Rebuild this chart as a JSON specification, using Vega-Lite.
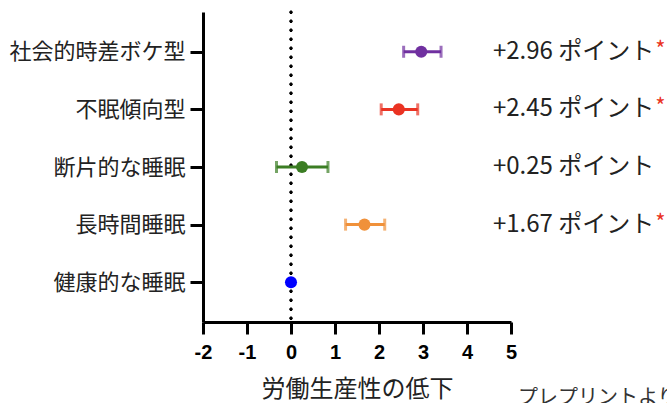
{
  "$schema": "https://vega.github.io/schema/vega-lite/v6.json",
  "autosize": {"type": "none"},
  "padding": {"left": 203, "top": 12, "right": 156, "bottom": 81},
  "width": 308,
  "height": 310,
  "background": "white",
  "config": {"view": {"stroke": null}, "font": "Noto Sans CJK JP"},
  "title": {"text": "プレプリントより", "orient": "bottom", "anchor": "start", "frame": "group", "dx": 315, "offset": -13, "fontSize": 20, "font": "Noto Sans CJK JP", "fontWeight": "normal", "color": "#333333"},
  "data": {"values": [
    {"name": "社会的時差ボケ型", "est": 2.96, "lo": 2.56, "hi": 3.41, "label": "+2.96 ポイント", "sig": true},
    {"name": "不眠傾向型", "est": 2.45, "lo": 2.05, "hi": 2.88, "label": "+2.45 ポイント", "sig": true},
    {"name": "断片的な睡眠", "est": 0.25, "lo": -0.33, "hi": 0.84, "label": "+0.25 ポイント", "sig": false},
    {"name": "長時間睡眠", "est": 1.67, "lo": 1.24, "hi": 2.13, "label": "+1.67 ポイント", "sig": true},
    {"name": "健康的な睡眠", "est": 0, "lo": null, "hi": null, "label": null, "sig": false}
  ]},
  "encoding": {
    "y": {"field": "name", "type": "nominal", "sort": null,
      "scale": {"type": "point", "padding": 0.69},
      "axis": {"title": null, "domainColor": "black", "domainWidth": 3, "tickColor": "black", "tickWidth": 3, "tickSize": 13, "labelPadding": 5, "labelFontSize": 22, "labelColor": "#222222", "labelFont": "Noto Sans CJK JP", "grid": false}}
  },
  "layer": [
    {"mark": {"type": "rule", "strokeDash": [0.5, 8.5], "strokeWidth": 2.6, "strokeCap": "round", "color": "black"},
     "encoding": {"x": {"datum": 0, "type": "quantitative",
       "scale": {"domain": [-2, 5], "nice": false, "zero": false},
       "axis": {"title": "労働生産性の低下", "values": [-2, -1, 0, 1, 2, 3, 4, 5], "labelExpr": "datum.value", "domainColor": "black", "domainWidth": 3, "tickColor": "black", "tickWidth": 3, "tickSize": 12, "labelPadding": 8, "labelFontSize": 20, "labelFontWeight": "bold", "labelFont": "Liberation Sans", "labelColor": "black", "labelFlush": false, "grid": false, "titleFontSize": 24, "titleFontWeight": "normal", "titleFont": "Noto Sans CJK JP", "titleColor": "#222222", "titlePadding": 15}},
       "y": null}},
    {"mark": {"type": "rule", "strokeWidth": 3},
     "encoding": {"x": {"field": "lo", "type": "quantitative"}, "x2": {"field": "hi"},
       "color": {"field": "name", "type": "nominal", "legend": null, "scale": {"domain": ["社会的時差ボケ型", "不眠傾向型", "断片的な睡眠", "長時間睡眠", "健康的な睡眠"], "range": ["#7030A0", "#EA3323", "#3B7D23", "#F0913A", "#0000FF"]}}}},
    {"mark": {"type": "tick", "orient": "vertical", "size": 12, "thickness": 3},
     "encoding": {"x": {"field": "lo", "type": "quantitative"}, "color": {"field": "name", "type": "nominal", "legend": null}}},
    {"mark": {"type": "tick", "orient": "vertical", "size": 12, "thickness": 3},
     "encoding": {"x": {"field": "hi", "type": "quantitative"}, "color": {"field": "name", "type": "nominal", "legend": null}}},
    {"mark": {"type": "point", "filled": true, "opacity": 1, "size": 145},
     "encoding": {"x": {"field": "est", "type": "quantitative"}, "color": {"field": "name", "type": "nominal", "legend": null}}},
    {"transform": [{"filter": "datum.label != null"}],
     "mark": {"type": "text", "align": "left", "baseline": "middle", "fontSize": 24, "font": "Noto Sans CJK JP", "color": "#222222"},
     "encoding": {"x": {"datum": 4.59, "type": "quantitative"}, "text": {"field": "label"}}},
    {"transform": [{"filter": "datum.sig"}],
     "mark": {"type": "text", "align": "left", "baseline": "middle", "fontSize": 22, "color": "#EA3323", "dy": -2},
     "encoding": {"x": {"datum": 8.28, "type": "quantitative"}, "text": {"value": "*"}}}
  ]
}
